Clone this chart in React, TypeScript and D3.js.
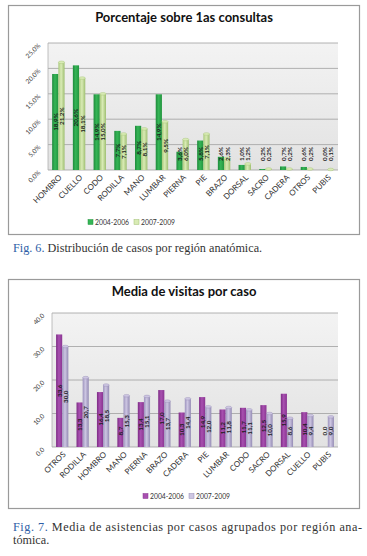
import React from "react";
import * as d3 from "d3";

// Fig. 6 - porcentaje sobre 1as consultas
const regionesPct = ["HOMBRO", "CUELLO", "CODO", "RODILLA", "MANO", "LUMBAR", "PIERNA", "PIE", "BRAZO", "DORSAL", "SACRO", "CADERA", "OTROS", "PUBIS"];
const pct0406 = [18.9, 20.6, 14.9, 7.7, 8.7, 14.9, 3.6, 5.8, 2.6, 1.0, 0.2, 0.7, 0.6, 0.0];
const pct0709 = [21.2, 18.1, 15.0, 7.1, 8.1, 9.5, 6.0, 7.1, 2.3, 1.2, 0.2, 0.2, 0.2, 0.1];
const pctTicks = [0, 5, 10, 15, 20, 25];

// Fig. 7 - media de visitas por caso
const regionesVis = ["OTROS", "RODILLA", "HOMBRO", "MANO", "PIERNA", "BRAZO", "CADERA", "PIE", "LUMBAR", "CODO", "SACRO", "DORSAL", "CUELLO", "PUBIS"];
const vis0406 = [33.6, 13.3, 16.4, 8.7, 13.4, 17.0, 10.3, 14.9, 11.2, 11.7, 12.5, 15.9, 10.4, 0.0];
const vis0709 = [30.0, 20.7, 18.5, 15.3, 15.1, 13.7, 14.4, 12.0, 11.8, 11.1, 10.0, 8.6, 9.4, 9.0];
const visTicks = [0, 10, 20, 30, 40];

const periodos = ["2004-2006", "2007-2009"];

const chartFont = "Lato, 'Open Sans', sans-serif";
const coma = (f: string) => (v: number) => d3.format(f)(v).replace(".", ",");

interface ChartProps {
  id: string;
  top: number;
  title: string;
  categorias: string[];
  serieA: number[];
  serieB: number[];
  ticks: number[];
  fmt: (v: number) => string;
  plot: { left: number; right: number; top: number; bottom: number };
  colA: [string, string, string];
  colB: [string, string, string];
  legendX: number;
}

const Chart: React.FC<ChartProps> = (p) => {
  const { plot } = p;
  const x0 = d3
    .scaleBand<string>()
    .domain(p.categorias)
    .range([plot.left, plot.right])
    .paddingInner(0.4)
    .paddingOuter(0.2);
  const x1 = d3.scaleBand<string>().domain(periodos).range([0, x0.bandwidth()]);
  const y = d3
    .scaleLinear()
    .domain([0, p.ticks[p.ticks.length - 1]])
    .range([plot.bottom, plot.top]);

  const series = [p.serieA, p.serieB];
  const gradIds = [`${p.id}-a`, `${p.id}-b`];
  const cols = [p.colA, p.colB];

  return (
    <g>
      <defs>
        {cols.map((c, i) => (
          <linearGradient key={i} id={gradIds[i]} x1="0" x2="1" y1="0" y2="0">
            <stop offset="0%" stopColor={c[0]} />
            <stop offset="45%" stopColor={c[1]} />
            <stop offset="100%" stopColor={c[2]} />
          </linearGradient>
        ))}
        <linearGradient id={`${p.id}-bg`} x1="0" x2="0" y1="0" y2="1">
          <stop offset="0%" stopColor="#f3f3f3" />
          <stop offset="100%" stopColor="#e2e2e2" />
        </linearGradient>
      </defs>

      {/* marco */}
      <rect x={8.5} y={p.top + 0.5} width={351} height={229} fill="#fff" stroke="#9a9a9a" strokeWidth={1.2} />

      <text x={184} y={p.top + 17} textAnchor="middle" fontFamily={chartFont} fontWeight={700} fontSize={13} fill="#111">
        {p.title}
      </text>

      {/* area de trazado */}
      <rect x={plot.left} y={plot.top} width={plot.right - plot.left} height={plot.bottom - plot.top} fill={`url(#${p.id}-bg)`} />
      {p.ticks.map((t) => (
        <g key={t}>
          <line x1={plot.left} x2={plot.right} y1={y(t)} y2={y(t)} stroke="#a0a0a0" strokeWidth={0.8} />
          <text
            transform={`translate(${plot.left - 7},${y(t) + 3}) rotate(-45)`}
            textAnchor="end"
            fontFamily={chartFont}
            fontSize={6.5}
            fill="#444"
          >
            {p.fmt(t)}
          </text>
        </g>
      ))}
      <line x1={plot.left} x2={plot.left} y1={plot.top} y2={plot.bottom} stroke="#b0b0b0" strokeWidth={0.8} />

      {/* barras */}
      {p.categorias.map((cat, i) => (
        <g key={cat}>
          {series.map((s, k) => {
            const v = s[i];
            const bx = (x0(cat) ?? 0) + (x1(periodos[k]) ?? 0);
            const bw = x1.bandwidth();
            const by = y(v);
            const h = plot.bottom - by;
            return (
              <g key={k}>
                {h > 0 && <rect x={bx} y={by} width={bw} height={h} fill={`url(#${gradIds[k]})`} />}
                {h > 0 && k === 1 && <ellipse cx={bx + bw / 2} cy={by} rx={bw / 2} ry={1.3} fill={cols[k][1]} stroke={cols[k][2]} strokeWidth={0.4} />}
              </g>
            );
          })}
          {series.map((s, k) => {
            const v = s[i];
            const cx = (x0(cat) ?? 0) + (x1(periodos[k]) ?? 0) + x1.bandwidth() / 2;
            const mid = (y(v) + plot.bottom) / 2;
            const cy = Math.min(mid, plot.bottom - 16);
            return (
              <text
                key={`l${k}`}
                transform={`translate(${cx},${cy}) rotate(-90)`}
                textAnchor="middle"
                dominantBaseline="central"
                fontFamily={chartFont}
                fontWeight={700}
                fontSize={6.3}
                fill="#1c1c1c"
              >
                {p.fmt(v)}
              </text>
            );
          })}
          <text
            transform={`translate(${(x0(cat) ?? 0) + x0.bandwidth() / 2 + 4},${plot.bottom + 8}) rotate(-45)`}
            textAnchor="end"
            fontFamily={chartFont}
            fontSize={8}
            fill="#333"
          >
            {cat}
          </text>
        </g>
      ))}

      {/* leyenda */}
      {periodos.map((per, k) => {
        const lx = p.legendX + k * 46;
        const ly = p.top + 217;
        return (
          <g key={per}>
            <rect x={lx} y={ly - 2.5} width={5} height={5} fill={cols[k][1]} stroke={cols[k][2]} strokeWidth={0.5} />
            <text x={lx + 7} y={ly} dominantBaseline="central" fontFamily={chartFont} fontSize={6.8} fill="#333">
              {per}
            </text>
          </g>
        );
      })}
    </g>
  );
};

const captionFont = "'Liberation Serif', 'DejaVu Serif', serif";
const blue = "#2d5da6";

export default function App() {
  const fmtPct = coma(".1f");
  return (
    <svg width={367} height={556} style={{ position: "absolute", left: 0, top: 0, background: "#fff" }}>
      <Chart
        id="g6"
        top={5}
        title="Porcentaje sobre 1as consultas"
        categorias={regionesPct}
        serieA={pct0406}
        serieB={pct0709}
        ticks={pctTicks}
        fmt={(v) => fmtPct(v) + "%"}
        plot={{ left: 48, right: 338, top: 43, bottom: 170 }}
        colA={["#1f8a3c", "#35b556", "#23953f"]}
        colB={["#a9c97c", "#d9ebb5", "#9fbf72"]}
        legendX={88}
      />
      <text x={13} y={252} fontFamily={captionFont} fontSize={12.2} fill="#333">
        <tspan fill={blue}>Fig. 6.</tspan> Distribución de casos por región anatómica.
      </text>

      <Chart
        id="g7"
        top={279}
        title="Media de visitas por caso"
        categorias={regionesVis}
        serieA={vis0406}
        serieB={vis0709}
        ticks={visTicks}
        fmt={coma(".1f")}
        plot={{ left: 52, right: 338, top: 313, bottom: 447 }}
        colA={["#7d2b85", "#a850b0", "#8a3592"]}
        colB={["#9d94bd", "#cdc6e2", "#948bb4"]}
        legendX={143}
      />
      <text x={13} y={531} fontFamily={captionFont} fontSize={12.2} fill="#333" textLength={349} lengthAdjust="spacing">
        <tspan fill={blue}>Fig. 7.</tspan> Media de asistencias por casos agrupados por región ana-
      </text>
      <text x={13} y={544} fontFamily={captionFont} fontSize={12.2} fill="#333">
        tómica.
      </text>
    </svg>
  );
}
